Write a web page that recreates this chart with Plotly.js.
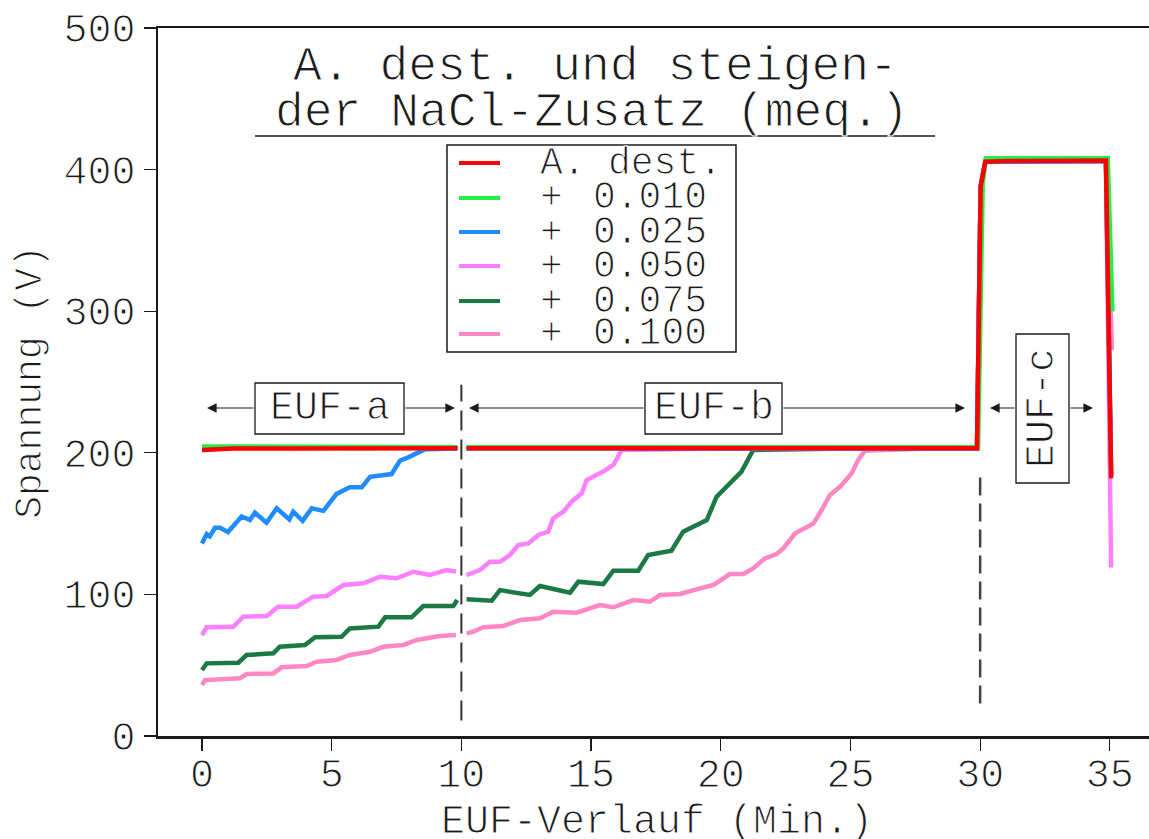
<!DOCTYPE html>
<html>
<head>
<meta charset="utf-8">
<script src="https://cdn.plot.ly/plotly-3.0.1.min.js"></script>
<style>
html,body{margin:0;padding:0;background:#fff;}
#chart{width:1149px;height:839px;}
#chart svg text{stroke:#ffffff;stroke-width:1.1px;}
</style>
</head>
<body>
<div id="chart"></div>
<script>
// ---------- data ----------
const seriesNames = ['A. dest.', '+ 0.010', '+ 0.025', '+ 0.050', '+ 0.075', '+ 0.100'];
const legendPrefix = ['A.', '+', '+', '+', '+', '+'];
const legendLabel = ['dest.', '0.010', '0.025', '0.050', '0.075', '0.100'];
const seriesColors = ['#ff0000', '#22f044', '#1f8cff', '#ff80ff', '#1b7a43', '#ff88c4'];

const xDest = [0, 0.6, 1.2, 3, 6, 9.85, null, 10.2, 15, 20, 25, 29.88, 30.02, 30.2, 31, 33, 34.85, 35.05];
const yDest = [202, 202.3, 203, 203, 203, 203.3, null, 203.3, 203.3, 203.3, 203.3, 203.3, 388, 405.5, 406, 406.5, 406.5, 182];

const x010 = [0, 3, 9.85, null, 10.2, 29.92, 30.1, 30.22, 32, 34.92, 35.1];
const y010 = [204.5, 204.5, 204, null, 204, 204, 390, 408, 408, 408, 300];

const x025 = [0, 0.18, 0.3, 0.5, 0.7, 1.0, 1.53, 1.85, 2.04, 2.49, 2.88, 3.37, 3.52, 3.88, 4.23, 4.68, 5.19, 5.7, 6.16, 6.48, 7.31, 7.63, 7.95, 8.6, 9.85, null, 10.2, 29.88, 30.02, 30.2, 34.85, 35.05];
const y025 = [136, 142.6, 141, 147, 147, 144, 155, 152.5, 157.7, 150.6, 160.8, 153, 158.4, 152, 160.8, 159, 171, 175.6, 175.6, 183, 185, 194.4, 196.8, 202.5, 203, null, 203, 203, 388, 405.5, 406, 184];

const x050 = [0, 0.18, 1.21, 1.59, 2.49, 2.94, 3.65, 4.29, 4.81, 5.45, 6.22, 6.86, 7.5, 8.15, 8.79, 9.43, 9.79, null, 10.2, 10.72, 11.1, 11.49, 11.87, 12.19, 12.58, 12.97, 13.35, 13.54, 13.93, 14.25, 14.64, 14.83, 15.47, 15.86, 16.18, 20, 29.88, 30.02, 30.2, 34.85, 35.05];
const y050 = [71.3, 76.8, 77.2, 84.3, 84.7, 91.3, 91.3, 98.4, 98.9, 106.6, 107.8, 112.5, 111.4, 116, 113.7, 117.2, 116, null, 113.7, 117.2, 123, 123, 127.8, 134.9, 136, 142, 144.3, 153.7, 158.4, 165.5, 171.4, 180.8, 186.7, 191.4, 202, 203, 203, 388, 405.5, 406, 119];

const x075 = [0, 0.18, 1.4, 1.72, 2.75, 3.0, 3.97, 4.36, 5.38, 5.7, 6.8, 7.06, 8.08, 8.53, 9.69, 9.84, null, 10.2, 11.17, 11.49, 12.64, 13.03, 14.19, 14.51, 15.47, 15.86, 16.82, 17.2, 18.1, 18.55, 19.46, 19.84, 20.8, 21.25, 25, 29.88, 30.02, 30.2, 34.85, 35.05];
const y075 = [46.6, 51.3, 51.8, 57.2, 58.4, 63.1, 64.3, 69.7, 70.1, 76, 77.2, 83.8, 83.8, 91.8, 91.8, 96, null, 96.5, 95.6, 103, 99.6, 105.9, 101.2, 109, 107.3, 116.7, 116.7, 127.8, 130.9, 144.3, 152.5, 169, 186.7, 202, 203, 203, 388, 405.5, 406, 184];

const x100 = [0, 0.12, 1.46, 1.72, 2.75, 3.07, 4.04, 4.42, 5.19, 5.7, 6.48, 6.99, 7.76, 8.28, 9.17, 9.79, null, 10.2, 10.46, 10.85, 11.62, 12.26, 13.03, 13.54, 14.44, 15.34, 15.86, 16.63, 17.27, 17.66, 18.43, 19.2, 19.71, 20.35, 20.87, 21.25, 21.7, 22.15, 22.41, 22.86, 23.57, 23.89, 24.21, 24.6, 25.05, 25.3, 25.56, 28, 29.88, 30.02, 30.2, 34.85, 35.08];
const y100 = [36, 39.5, 40.8, 43.8, 44.2, 48.5, 49.4, 52.5, 53.7, 57.2, 59.5, 63, 64.3, 67.8, 70.6, 71.3, null, 72.5, 73.7, 76.8, 77.7, 81.9, 83.1, 87.8, 87.1, 92.5, 90.9, 96, 94.8, 99.6, 100.3, 104.3, 106.6, 114.4, 114.4, 118.4, 125.4, 128.5, 132.5, 143, 150, 159.6, 170.2, 176, 185.5, 195, 201.5, 203, 203, 388, 405.5, 406, 272.6];

const seriesX = [xDest, x010, x025, x050, x075, x100];
const seriesY = [yDest, y010, y025, y050, y075, y100];

const xTicks = [0, 5, 10, 15, 20, 25, 30, 35];
const yTicks = [0, 100, 200, 300, 400, 500];
const phaseLabels = ['EUF-a', 'EUF-b', 'EUF-c'];
const phaseBoundaries = [10, 30];
const titleLines = ['A. dest. und steigen-', 'der NaCl-Zusatz (meq.)'];
const xTitle = 'EUF-Verlauf (Min.)';
const yTitle = 'Spannung (V)';

// ---------- layout helpers ----------
const FONT = 'Liberation Mono, DejaVu Sans Mono, monospace';
const INK = '#1a1a1a';
const L = 158, R = 1149, T = 28, B = 736;
const px = v => (v - L) / (R - L);
const py = v => (B - v) / (B - T);

// traces: drawn in reverse so the red line sits on top
const traces = [];
for (let i = seriesNames.length - 1; i >= 0; i--) {
  traces.push({
    x: seriesX[i], y: seriesY[i], name: seriesNames[i],
    type: 'scatter', mode: 'lines', connectgaps: false,
    line: {color: seriesColors[i], width: 4.5},
    showlegend: false, hoverinfo: 'skip'
  });
}

const shapes = [];
const annotations = [];

// title
annotations.push({xref: 'paper', yref: 'paper', x: px(595), y: py(67), text: titleLines[0], showarrow: false,
  xanchor: 'center', yanchor: 'middle', font: {family: FONT, size: 48, color: INK}});
annotations.push({xref: 'paper', yref: 'paper', x: px(592), y: py(113), text: titleLines[1], showarrow: false,
  xanchor: 'center', yanchor: 'middle', font: {family: FONT, size: 48, color: INK}});
shapes.push({type: 'line', xref: 'paper', yref: 'paper', x0: px(255), x1: px(935), y0: py(136), y1: py(136),
  line: {color: INK, width: 1.5}});

// x axis title (placed as text below the tick labels)
annotations.push({xref: 'paper', yref: 'paper', x: px(657), y: py(822), text: xTitle, showarrow: false,
  xanchor: 'center', yanchor: 'middle', font: {family: FONT, size: 40, color: INK}});

// legend box
shapes.push({type: 'rect', xref: 'paper', yref: 'paper', x0: px(447), x1: px(736), y0: py(145), y1: py(352),
  line: {color: INK, width: 1.5}});
const rowY = [163, 198, 232, 266, 301, 334];
for (let i = 0; i < seriesNames.length; i++) {
  shapes.push({type: 'line', xref: 'paper', yref: 'paper', x0: px(459), x1: px(500), y0: py(rowY[i]), y1: py(rowY[i]),
    line: {color: seriesColors[i], width: 4}});
  annotations.push({xref: 'paper', yref: 'paper', x: px(538), y: py(rowY[i]), text: legendPrefix[i], showarrow: false,
    xanchor: 'left', yanchor: 'middle', font: {family: FONT, size: 38, color: INK}});
  annotations.push({xref: 'paper', yref: 'paper', x: px(i === 0 ? 606 : 591), y: py(rowY[i]), text: legendLabel[i], showarrow: false,
    xanchor: 'left', yanchor: 'middle', font: {family: FONT, size: 38, color: INK}});
}

// phase boxes
const boxes = [[255, 404, 383, 434], [645, 782, 383, 434], [1016, 1069, 334, 483]];
boxes.forEach((b, i) => {
  shapes.push({type: 'rect', xref: 'paper', yref: 'paper', x0: px(b[0]), x1: px(b[1]), y0: py(b[2]), y1: py(b[3]),
    line: {color: INK, width: 1.3}});
  annotations.push({xref: 'paper', yref: 'paper', x: px((b[0] + b[1]) / 2), y: py((b[2] + b[3]) / 2),
    text: phaseLabels[i], showarrow: false, xanchor: 'center', yanchor: 'middle',
    textangle: i === 2 ? -90 : 0, font: {family: FONT, size: 40, color: INK}});
});
// arrows [head, tail]
const arrows = [[207, 255], [455, 404], [469, 645], [965, 782], [990, 1016], [1093, 1069]];
arrows.forEach(a => {
  annotations.push({xref: 'paper', yref: 'paper', x: px(a[0]), y: py(408), ax: a[1] - a[0], ay: 0,
    axref: 'pixel', ayref: 'pixel', text: '', showarrow: true, arrowhead: 2, arrowsize: 1.6,
    arrowwidth: 1.2, arrowcolor: INK, standoff: 0, startstandoff: 0});
});

// dashed phase boundaries
shapes.push({type: 'line', xref: 'x', yref: 'y', x0: phaseBoundaries[0], x1: phaseBoundaries[0], y0: 11, y1: 248,
  line: {color: '#333', width: 2, dash: '20px,9px'}});
shapes.push({type: 'line', xref: 'x', yref: 'y', x0: phaseBoundaries[1], x1: phaseBoundaries[1], y0: 23, y1: 183,
  line: {color: '#444', width: 2.5, dash: '18px,8px'}});

const layout = {
  width: 1149, height: 839,
  margin: {l: L, r: 1149 - R, t: T, b: 839 - B},
  paper_bgcolor: '#fff', plot_bgcolor: '#fff',
  font: {family: FONT, color: INK},
  xaxis: {
    range: [-1.696, 36.51], tickvals: xTicks, ticktext: xTicks.map(String),
    ticks: 'outside', ticklen: 12, tickwidth: 1.2, tickcolor: INK,
    ticklabelstandoff: -12,
    showline: true, linewidth: 2.5, linecolor: INK, mirror: true,
    showgrid: false, zeroline: false,
    tickfont: {family: FONT, size: 40, color: INK}
  },
  yaxis: {
    range: [0, 500], tickvals: yTicks, ticktext: yTicks.map(String),
    ticks: 'outside', ticklen: 12, tickwidth: 1.2, tickcolor: INK,
    showline: true, linewidth: 2.5, linecolor: INK,
    showgrid: false, zeroline: false,
    tickfont: {family: FONT, size: 40, color: INK},
    title: {text: yTitle, font: {family: FONT, size: 38, color: INK}, standoff: 10}
  },
  shapes: shapes,
  annotations: annotations,
  showlegend: false
};

Plotly.newPlot('chart', traces, layout, {displayModeBar: false, staticPlot: true});
</script>
</body>
</html>
